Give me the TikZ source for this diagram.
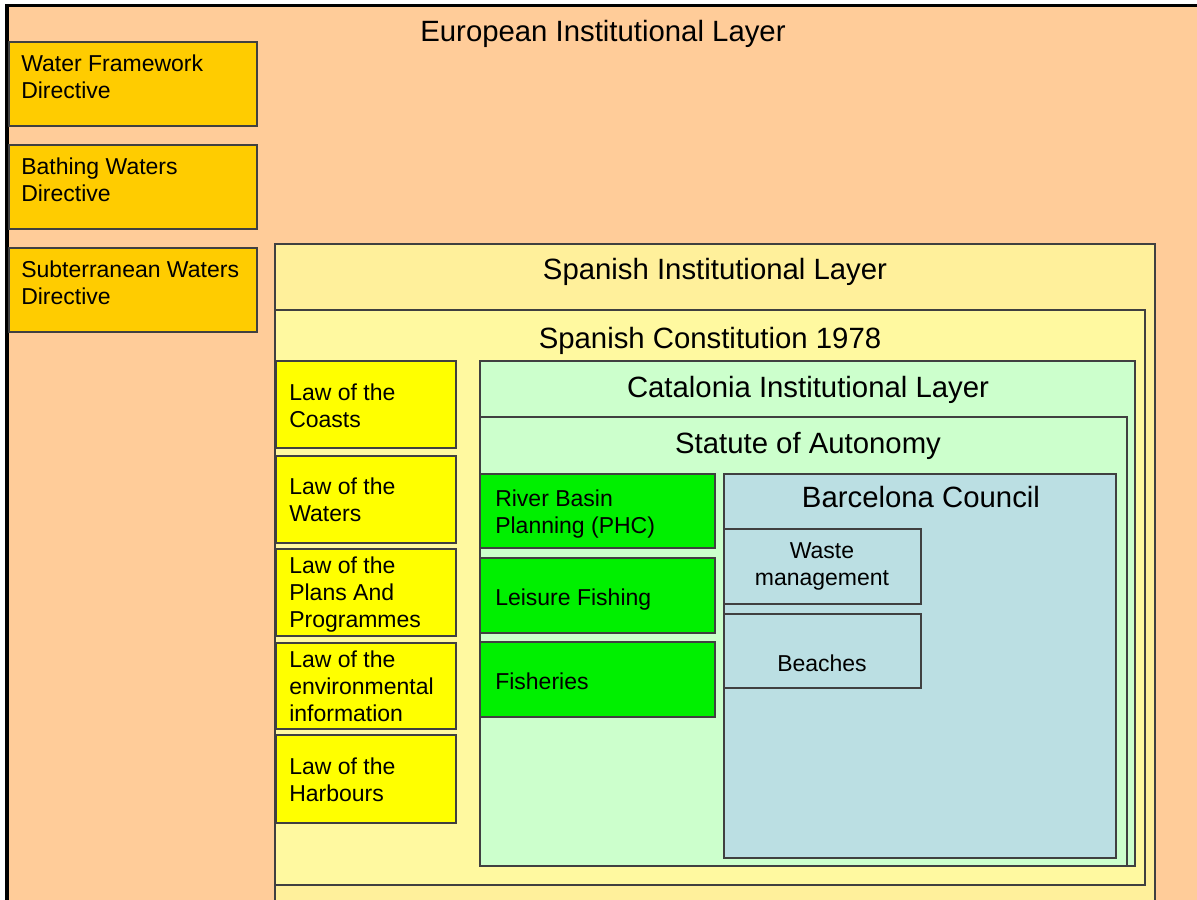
\documentclass[tikz,border=0pt]{standalone}
\usepackage{fontspec}
\setmainfont{Liberation Sans}
\usepackage{xcolor}
\usepackage{tikz}

\definecolor{peach}{RGB}{255,204,153}
\definecolor{gold}{RGB}{255,204,0}
\definecolor{spanishY}{RGB}{255,240,155}
\definecolor{constY}{RGB}{255,249,160}
\definecolor{lawY}{RGB}{255,255,0}
\definecolor{cataG}{RGB}{204,255,204}
\definecolor{planG}{RGB}{0,240,0}
\definecolor{bcnB}{RGB}{187,223,227}
\definecolor{edgegray}{RGB}{64,64,64}

\tikzset{
  layer/.style={draw=edgegray, line width=1.1pt},
  title/.style={anchor=base, inner sep=0pt, font=\fontsize{22}{26}\selectfont},
  item/.style={anchor=north west, inner sep=0pt, align=left, font=\fontsize{17.25}{20.25}\selectfont},
  citem/.style={item, anchor=north, align=center},
}

\begin{document}
\begin{tikzpicture}[x=0.75pt,y=0.75pt,yscale=-1,xscale=1]
\useasboundingbox (0,0) rectangle (1197,900);
\clip (0,0) rectangle (1197,900);

%Shape: Rectangle [European layer]
\fill [peach] (7,5.5) rectangle (1197,900);
%Straight Lines [frame, left and top]
\draw [line width=2.6pt] (7,900) -- (7,5.5) -- (1197,5.5);
%Shape: Rectangle [directives]
\draw [layer, fill=gold] (9,42) rectangle (257,126);
\draw [layer, fill=gold] (9,145) rectangle (257,229);
\draw [layer, fill=gold] (9,248) rectangle (257,332);
%Shape: Rectangle [Spanish layer]
\draw [layer, fill=spanishY] (275,244) rectangle (1155,940);
%Shape: Rectangle [constitution]
\draw [layer, fill=constY] (275,310) rectangle (1145,885);
%Shape: Rectangle [laws]
\draw [layer, fill=lawY] (276,361) rectangle (456,448);
\draw [layer, fill=lawY] (276,456) rectangle (456,543);
\draw [layer, fill=lawY] (276,549) rectangle (456,636);
\draw [layer, fill=lawY] (276,643) rectangle (456,729);
\draw [layer, fill=lawY] (276,735) rectangle (456,823);
%Shape: Rectangle [Catalonia layer]
\draw [layer, fill=cataG] (480,361) rectangle (1135,866);
%Shape: Rectangle [statute]
\draw [layer, fill=cataG] (480,417) rectangle (1127,866);
%Shape: Rectangle [plans]
\draw [layer, fill=planG] (480,474) rectangle (715,548);
\draw [layer, fill=planG] (480,558) rectangle (715,633);
\draw [layer, fill=planG] (480,642) rectangle (715,717);
%Shape: Rectangle [Barcelona council]
\draw [layer, fill=bcnB] (724,474) rectangle (1116,858);
\draw [layer, fill=bcnB] (724,529) rectangle (921,604);
\draw [layer, fill=bcnB] (724,614) rectangle (921,688);

% Text Node
\node [title] (euroTitle) at (603,41) {European Institutional Layer};
% Text Node
\node [title] (spainTitle) at (715,279) {Spanish Institutional Layer};
% Text Node
\node [title] (constTitle) at (710,348) {Spanish Constitution 1978};
% Text Node
\node [title] (cataTitle) at (808,397) {Catalonia Institutional Layer};
% Text Node
\node [title] (statuteTitle) at (808,453) {Statute of Autonomy};
% Text Node
\node [title] (bcnTitle) at (921,507) {Barcelona Council};

% Text Node
\node [item] (wfd) at (21,54.5) {Water Framework\\Directive};
% Text Node
\node [item] (bwd) at (21,157.5) {Bathing Waters\\Directive};
% Text Node
\node [item] (swd) at (21,260.5) {Subterranean Waters\\Directive};

% Text Node
\node [item] (coasts) at (289,383.5) {Law of the\\Coasts};
% Text Node
\node [item] (waters) at (289,477.5) {Law of the\\Waters};
% Text Node
\node [item] (plans) at (289,556.5) {Law of the\\Plans And\\Programmes};
% Text Node
\node [item] (envinfo) at (289,650.5) {Law of the\\environmental\\information};
% Text Node
\node [item] (harbours) at (289,757.5) {Law of the\\Harbours};

% Text Node
\node [item] (basin) at (495,489.5) {River Basin\\Planning (PHC)};
% Text Node
\node [item] (leisure) at (495,588.5) {Leisure Fishing};
% Text Node
\node [item] (fisheries) at (495,672.5) {Fisheries};

% Text Node
\node [citem] (waste) at (822,542.5) {Waste\\management};
% Text Node
\node [citem] (beaches) at (822,654.5) {Beaches};
\end{tikzpicture}
\end{document}
